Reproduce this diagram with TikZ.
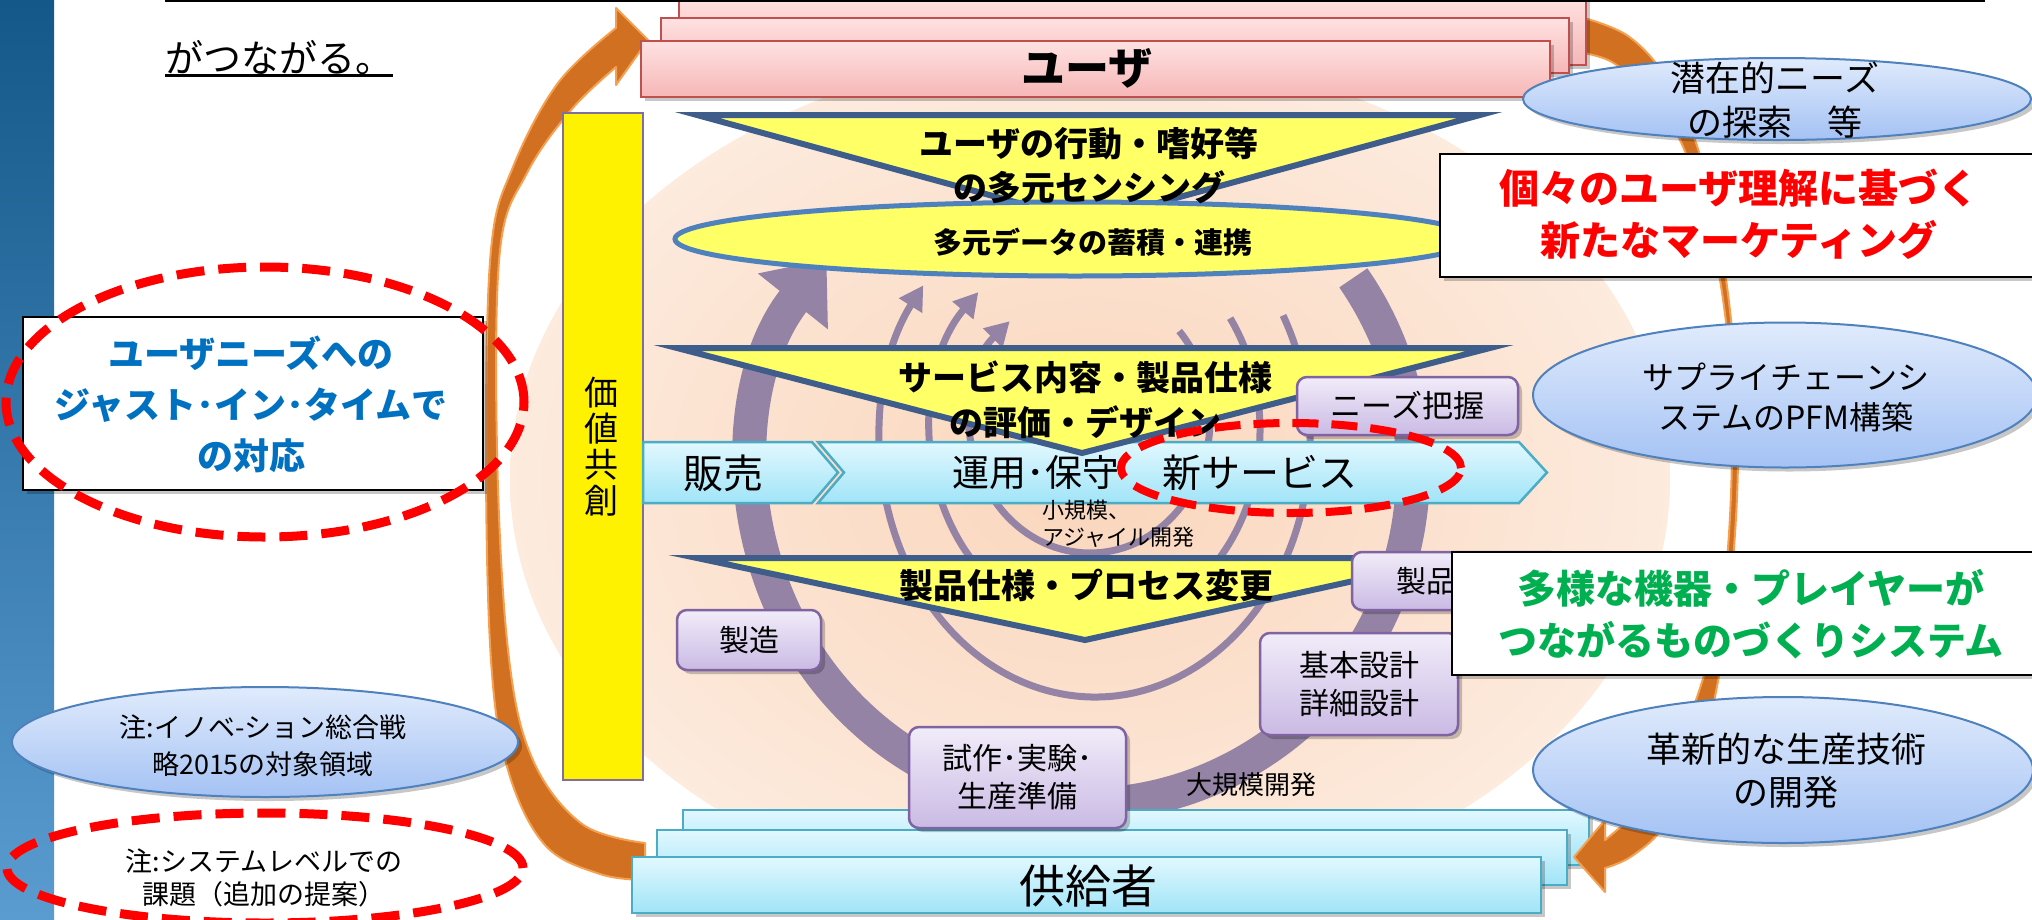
\documentclass[tikz,border=0pt]{standalone}
\usepackage{fontspec}
\setmainfont{Noto Sans CJK JP}
\usetikzlibrary{shapes.geometric,arrows.meta,shadows}

\definecolor{stripeTop}{RGB}{20,88,138}
\definecolor{stripeBot}{RGB}{90,156,208}
\definecolor{glowc}{RGB}{250,214,188}
\definecolor{orng}{RGB}{208,112,32}
\definecolor{orngEdge}{RGB}{244,160,80}
\definecolor{ringc}{RGB}{148,131,164}
\definecolor{pinkTop}{RGB}{255,226,226}
\definecolor{pinkBot}{RGB}{246,182,182}
\definecolor{pinkLine}{RGB}{192,80,77}
\definecolor{cyanTop}{RGB}{226,248,254}
\definecolor{cyanBot}{RGB}{160,228,248}
\definecolor{cyanLine}{RGB}{75,172,198}
\definecolor{triFill}{RGB}{255,255,102}
\definecolor{triLine}{RGB}{62,93,138}
\definecolor{ellLine}{RGB}{79,129,189}
\definecolor{lilTop}{RGB}{241,236,249}
\definecolor{lilBot}{RGB}{202,186,228}
\definecolor{lilLine}{RGB}{128,100,162}
\definecolor{bluTop}{RGB}{224,235,252}
\definecolor{bluBot}{RGB}{164,194,244}
\definecolor{barLine}{RGB}{128,110,160}
\definecolor{txtBlue}{RGB}{0,112,192}
\definecolor{txtGreen}{RGB}{0,176,80}
\definecolor{dashRed}{RGB}{255,0,0}

\pgfdeclareradialshading{glow}{\pgfpoint{0bp}{0bp}}{color(0bp)=(glowc); color(18bp)=(glowc!65!white); color(36bp)=(glowc!25!white); color(50bp)=(white)}

\newcommand\fsz[2]{\fontsize{#1}{#2}\selectfont}

\tikzset{
  sz/.style 2 args={minimum width=#1, minimum height=#2},
  shadowed/.style={drop shadow={shadow xshift=4pt, shadow yshift=-4pt, opacity=0.22, fill=black}},
  pinkbox/.style={draw=pinkLine, line width=2.5, top color=pinkTop, bottom color=pinkBot, shadowed, inner sep=0},
  cyanbox/.style={draw=cyanLine, line width=2.5, top color=cyanTop, bottom color=cyanBot, shadowed, inner sep=0},
  cyanchev/.style={draw=cyanLine, line width=2.5, top color=cyanTop, bottom color=cyanBot, line join=miter},
  lilbox/.style={draw=lilLine, line width=2.5, rounded corners=10, top color=lilTop, bottom color=lilBot, shadowed, inner sep=0, align=center},
  bluell/.style={ellipse, draw=ellLine, line width=2, top color=bluTop, bottom color=bluBot, shadowed, inner sep=0},
  msgbox/.style={draw=black, line width=2.5, fill=white, shadowed, inner sep=0},
  tri/.style={draw=triLine, line width=6, fill=triFill, line join=miter},
  reddash/.style={draw=dashRed, line width=9, dash pattern=on 28pt off 14pt},
  thinring/.style={draw=ringc, line width=7, -{Triangle[width=26pt,length=24pt]}},
  bigring/.style={draw=ringc, line width=34, -{Triangle[width=86pt,length=54pt]}},
  orngarrow/.style={fill=orng, draw=orngEdge, line width=2, line join=round},
  txt/.style={inner sep=0, align=center},
}

\begin{document}
\begin{tikzpicture}[x=1pt,y=-1pt]
\useasboundingbox (0,0) rectangle (2032,919);
\fill[white] (0,0) rectangle (2032,919);

% side stripe
\shade[top color=stripeTop, bottom color=stripeBot] (0,0) rectangle (54,919);

% warm glow behind the cycle
\shade[shading=glow] (1090,480) ellipse[x radius=580, y radius=430];

% development cycle rings
\draw[bigring] (1083,470) ++(-35:330 and 335) arc[start angle=-35, end angle=219, x radius=330, y radius=335];
\draw[thinring] (1095,440) ++(-29:215 and 257) arc[start angle=-29, end angle=217, x radius=215, y radius=257];
\draw[thinring] (1095,430) ++(-35:165 and 195) arc[start angle=-35, end angle=225, x radius=165, y radius=195];
\draw[thinring] (1090,420) ++(-42:120 and 133) arc[start angle=-42, end angle=228, x radius=120, y radius=133];

% left return arrow (suppliers -> users)
\path[orngarrow] plot[smooth, tension=0.6] coordinates {(645,843) (582,824) (532,758) (508,650) (497,450) (500,250) (527,173) (571,110) (616,67)}
  -- (616,85) -- (648,40) -- (616,8)
  -- plot[smooth, tension=0.6] coordinates {(616,28) (558,83) (513,167) (491,250) (486,450) (491,660) (508,770) (545,845) (600,874) (645,880)} -- cycle;

% supplier layers
\node[cyanbox, sz={906}{55}] (supC) at (1136,837.5) {};
\node[cyanbox, sz={910}{55}] (supB) at (1112,857.5) {};
\node[cyanbox, sz={909}{56}] (sup) at (1086.5,885) {};
\node[txt, font=\fsz{46}{52}] (supT) at (1088,886) {供給者};

% right arrow (users -> suppliers)
\path[orngarrow] plot[smooth, tension=0.6] coordinates {(1584,18) (1628,36) (1665,76) (1695,140) (1718,230) (1733,340) (1738,450) (1733,560) (1720,670) (1698,760) (1665,825) (1632,856) (1605,868)}
  -- (1605,892) -- (1574,857) -- (1605,820)
  -- plot[smooth, tension=0.6] coordinates {(1605,840) (1640,808) (1670,762) (1696,700) (1716,630) (1727,560) (1732,450) (1728,340) (1710,230) (1680,140) (1642,88) (1612,62) (1584,53)} -- cycle;

% user layers
\node[pinkbox, sz={907}{70}] (userC) at (1132.5,30) {};
\node[pinkbox, sz={908}{55}] (userB) at (1115,45.5) {};
\node[pinkbox, sz={909}{56}] (user) at (1095.5,69) {};
\node[txt, font={\fsz{44}{50}\bfseries}] (userT) at (1087,68) {ユーザ};

% value co-creation bar
\node[draw=barLine, line width=2, fill=yellow, sz={80}{667}, inner sep=0] (bar) at (603,446.5) {};
\node[txt, font=\fsz{34}{36}] (barT) at (601,447) {価\\値\\共\\創};

% process chevrons
\path[cyanchev] (643,442) -- (812,442) -- (838,472.5) -- (812,503) -- (643,503) -- cycle;
\path[cyanchev] (818,442) -- (1519,442) -- (1547,472.5) -- (1519,503) -- (818,503) -- (844,472.5) -- cycle;
\node[txt, font=\fsz{40}{46}] (sales) at (723,473) {販売};
\node[txt, font=\fsz{37}{44}] (ops) at (1036,473) {運用･保守};

% funnels
\path[tri] (697,115) -- (1480,115) -- (1088,222) -- cycle;
\path[tri] (677,348) -- (1490,348) -- (1082,453) -- cycle;
\path[tri] (697,558) -- (1458,558) -- (1085,640) -- cycle;

% data ellipse
\node[ellipse, draw=ellLine, line width=5, fill=triFill, sz={800}{74}] (data) at (1075,239) {};
\node[txt, font={\fsz{29}{34}\bfseries}] (dataT) at (1093,242) {多元データの蓄積・連携};

\node[txt, font={\fsz{34}{44}\bfseries}] (sense) at (1089,165) {ユーザの行動・嗜好等\\の多元センシング};
\node[txt, font={\fsz{34}{45}\bfseries}] (eval) at (1085,399.5) {サービス内容・製品仕様\\の評価・デザイン};
\node[txt, font={\fsz{34}{40}\bfseries}] (change) at (1086,585) {製品仕様・プロセス変更};

% phase boxes
\node[lilbox, sz={221}{58}, font=\fsz{31}{36}] (needs) at (1407.5,406) {ニーズ把握};
\node[lilbox, sz={144}{60}, font=\fsz{30}{36}] (mfg) at (749,640) {製造};
\node[lilbox, sz={208}{58}] (prod) at (1456,581) {};
\node[txt, anchor=west, font=\fsz{30}{36}] (prodT) at (1396,581) {製品};
\node[lilbox, sz={198}{102}, font=\fsz{30}{38}] (design) at (1359,684) {基本設計\\詳細設計};
\node[lilbox, sz={217}{101}, font=\fsz{30}{38}] (proto) at (1017.5,777.5) {試作･実験･\\生産準備};

\node[txt, font=\fsz{39}{46}] (newsvcT) at (1260,473) {新サービス};
\node[ellipse, draw=dashRed, line width=8, dash pattern=on 26pt off 13pt, sz={340}{90}] (newsvc) at (1291,468) {};

\node[txt, anchor=west, align=left, font=\fsz{22}{27}] (agile) at (1042,524) {小規模、\\アジャイル開発};
\node[txt, font=\fsz{26}{30}] (large) at (1251,785) {大規模開発};

% right-hand notes
\node[bluell, sz={508}{82}] (latent) at (1777,99) {};
\node[txt, font=\fsz{35}{44}] (latentT) at (1775,100) {潜在的ニーズ\\の探索　等};
\node[msgbox, sz={600}{123}] (mkt) at (1740,215.5) {};
\node[txt, text=dashRed, font={\fsz{40}{52}\bfseries}] (mktT) at (1739,214) {個々のユーザ理解に基づく\\新たなマーケティング};
\node[bluell, sz={504}{145}] (scm) at (1785,395) {};
\node[txt, font=\fsz{32}{40}] (scmT) at (1786,397) {サプライチェーンシ\\ステムのPFM構築};
\node[msgbox, sz={588}{123}] (mono) at (1746,613.5) {};
\node[txt, text=txtGreen, font={\fsz{39}{52}\bfseries}] (monoT) at (1751,614) {多様な機器・プレイヤーが\\つながるものづくりシステム};
\node[bluell, sz={500}{146}] (tech) at (1783,770) {};
\node[txt, font=\fsz{35}{43}] (techT) at (1786,771) {革新的な生産技術\\の開発};

% left-hand notes
\node[msgbox, sz={460}{173}] (jit) at (253,403.5) {};
\node[txt, text=txtBlue, font={\fsz{36}{51}\bfseries}] (jitT) at (251,404) {ユーザニーズへの\\ジャスト･イン･タイムで\\の対応};
\node[ellipse, reddash, sz={518}{270}] (jitring) at (265,402) {};
\node[bluell, sz={506}{110}] (note1) at (265,742) {};
\node[txt, font=\fsz{27}{37}] (note1T) at (263,746) {注:イノベ-ション総合戦\\略2015の対象領域};
\node[ellipse, reddash, sz={516}{110}] (note2) at (265,868) {};
\node[txt, font=\fsz{27}{33}] (note2T) at (264,878) {注:システムレベルでの\\課題（追加の提案）};

% heading fragment and rule
\node[txt, anchor=base west, font=\fsz{38}{44}] (lead) at (165,72) {がつながる。};
\draw[line width=3] ([yshift=-1pt]lead.south west) -- ([yshift=-1pt]lead.south east);
\draw[line width=2.5] (165,1) -- (1985,1);
\end{tikzpicture}
\end{document}
